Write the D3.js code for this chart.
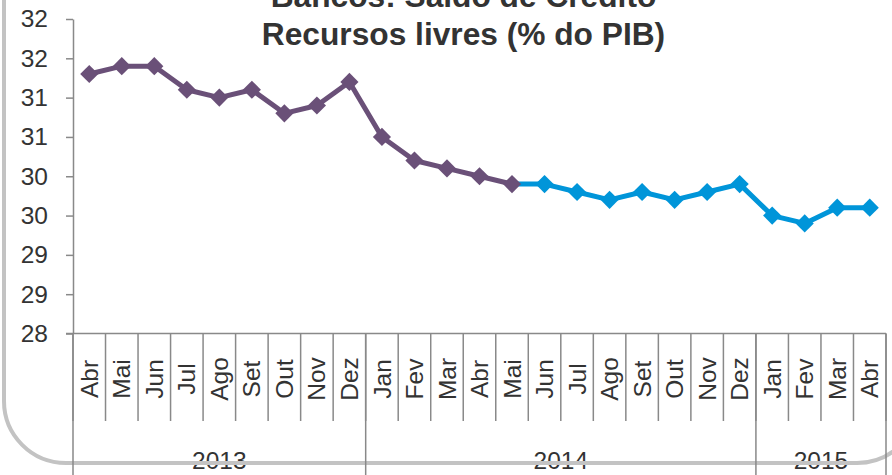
<!DOCTYPE html>
<html>
<head>
<meta charset="utf-8">
<script src="https://cdn.jsdelivr.net/npm/d3@7"></script>
<style>
  html, body { margin: 0; padding: 0; background: #fff; }
  svg { display: block; font-family: "Liberation Sans", Arial, sans-serif; }
</style>
</head>
<body>
<div id="chart"></div>
<script>
// categories: month label + year of each period
const months = ['Abr', 'Mai', 'Jun', 'Jul', 'Ago', 'Set', 'Out', 'Nov', 'Dez',
    'Jan', 'Fev', 'Mar', 'Abr', 'Mai', 'Jun', 'Jul', 'Ago', 'Set', 'Out', 'Nov', 'Dez',
    'Jan', 'Fev', 'Mar', 'Abr'];
const years = ['2013', '2013', '2013', '2013', '2013', '2013', '2013', '2013', '2013',
    '2014', '2014', '2014', '2014', '2014', '2014', '2014', '2014', '2014', '2014', '2014', '2014',
    '2015', '2015', '2015', '2015'];
// series 1 (purple): Abr/13 .. Mai/14, series 2 (blue): Mai/14 .. Abr/15
const serie1 = [31.3, 31.4, 31.4, 31.1, 31.0, 31.1, 30.8, 30.9, 31.2, 30.5, 30.2, 30.1, 30.0, 29.9];
const serie2Start = 13;
const serie2 = [29.9, 29.9, 29.8, 29.7, 29.8, 29.7, 29.8, 29.9, 29.5, 29.4, 29.6, 29.6];
const yTicks = [28, 28.5, 29, 29.5, 30, 30.5, 31, 31.5, 32];
const yTickLabels = ['28', '29', '29', '30', '30', '31', '31', '32', '32'];
const titleLines = ['Bancos: Saldo de Crédito', 'Recursos livres (% do PIB)'];

const W = 892, H = 475;
const PURPLE = '#6a5078';
const BLUE = '#0095d9';
const AXIS = '#898989';
const TEXT = '#333333';
const FONT = '24.5px';

const svg = d3.select('#chart').append('svg')
    .attr('width', W)
    .attr('height', H);

const x = d3.scaleBand()
    .domain(d3.range(months.length))
    .range([73, 886])
    .padding(0);
const y = d3.scaleLinear()
    .domain([28, 32])
    .range([333.5, 19]);
const cx = i => x(i) + x.bandwidth() / 2;

// title
svg.append('g').selectAll('text')
    .data(titleLines)
    .enter()
    .append('text')
    .attr('x', 463.5)
    .attr('y', (d, i) => 7 + i * 38)
    .attr('text-anchor', 'middle')
    .attr('font-size', '31.7px')
    .attr('font-weight', 'bold')
    .attr('fill', TEXT)
    .text(d => d);

// y axis
const yAxis = svg.append('g')
    .attr('transform', `translate(${x.range()[0]},0)`)
    .call(d3.axisLeft(y)
        .tickValues(yTicks)
        .tickFormat((d, i) => yTickLabels[i])
        .tickSize(7)
        .tickSizeOuter(0)
        .tickPadding(18));
yAxis.select('.domain').attr('stroke', AXIS).attr('stroke-width', 1.5);
yAxis.selectAll('.tick line').attr('stroke', AXIS).attr('stroke-width', 1.5);
yAxis.selectAll('.tick text')
    .attr('font-size', FONT)
    .attr('font-family', '"Liberation Sans", Arial, sans-serif')
    .attr('fill', TEXT);

// x axis baseline
const y0 = y(28);
svg.append('line')
    .attr('x1', x.range()[0] - 7)
    .attr('x2', x.range()[1])
    .attr('y1', y0)
    .attr('y2', y0)
    .attr('stroke', AXIS)
    .attr('stroke-width', 1.5);

// month separators
const bounds = d3.range(months.length + 1).map(i => i < months.length ? x(i) : x.range()[1]);
const yearBreaks = bounds.filter((b, i) => i === 0 || i === months.length || years[i] !== years[i - 1]);
svg.append('g').selectAll('line')
    .data(bounds)
    .enter()
    .append('line')
    .attr('x1', d => d)
    .attr('x2', d => d)
    .attr('y1', y0)
    .attr('y2', 421)
    .attr('stroke', AXIS)
    .attr('stroke-width', 1.5);

// month labels (rotated)
svg.append('g').selectAll('text')
    .data(months)
    .enter()
    .append('text')
    .attr('transform', (d, i) => `translate(${cx(i)},379) rotate(-90)`)
    .attr('text-anchor', 'middle')
    .attr('dy', '0.35em')
    .attr('font-size', FONT)
    .attr('fill', TEXT)
    .text(d => d);

// year labels
const yearGroups = d3.groups(d3.range(months.length), i => years[i]);
svg.append('g').selectAll('text')
    .data(yearGroups)
    .enter()
    .append('text')
    .attr('x', d => (x(d[1][0]) + x(d[1][d[1].length - 1]) + x.bandwidth()) / 2)
    .attr('y', 469)
    .attr('text-anchor', 'middle')
    .attr('font-size', FONT)
    .attr('fill', TEXT)
    .text(d => d[0]);

// rounded frame
svg.append('rect')
    .attr('x', 4)
    .attr('y', -200)
    .attr('width', 915)
    .attr('height', 663)
    .attr('rx', 62)
    .attr('fill', 'none')
    .attr('stroke', '#c3c3c3')
    .attr('stroke-width', 4);

// year separators
svg.append('g').selectAll('line')
    .data(yearBreaks)
    .enter()
    .append('line')
    .attr('x1', d => d)
    .attr('x2', d => d)
    .attr('y1', y0)
    .attr('y2', H)
    .attr('stroke', AXIS)
    .attr('stroke-width', 1.5);

// series
const pts1 = serie1.map((v, i) => ({ i, v }));
const pts2 = serie2.map((v, k) => ({ i: serie2Start + k, v }));
const line = d3.line().x(d => cx(d.i)).y(d => y(d.v));
const diamond = d3.symbol().type(d3.symbolSquare).size(165);

function drawSeries(pts, color, skipFirstMarker) {
    const g = svg.append('g');
    g.append('path')
        .datum(pts)
        .attr('d', line)
        .attr('fill', 'none')
        .attr('stroke', color)
        .attr('stroke-width', 5)
        .attr('stroke-linejoin', 'round');
    g.selectAll('path.m')
        .data(skipFirstMarker ? pts.slice(1) : pts)
        .enter()
        .append('path')
        .attr('class', 'm')
        .attr('d', diamond)
        .attr('transform', d => `translate(${cx(d.i)},${y(d.v)}) rotate(45)`)
        .attr('fill', color);
}
drawSeries(pts2, BLUE, true);
drawSeries(pts1, PURPLE, false);
</script>
</body>
</html>
